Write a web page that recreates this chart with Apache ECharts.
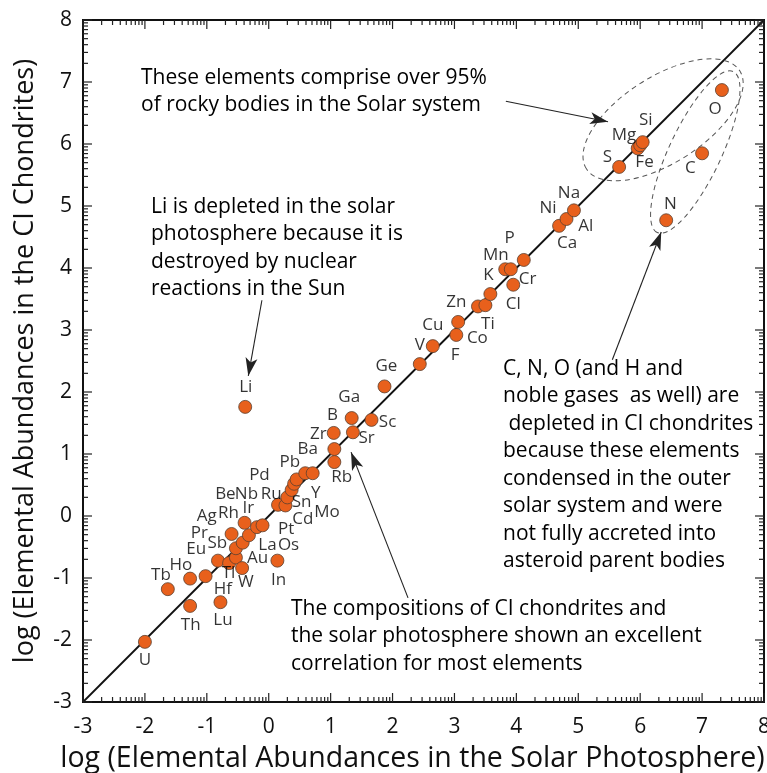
<!DOCTYPE html>
<html>
<head>
<meta charset="utf-8">
<script src="https://cdn.jsdelivr.net/npm/echarts@6/dist/echarts.min.js"></script>
<style>
  html, body { margin: 0; padding: 0; background: #fff; }
  #chart { width: 767px; height: 773px; }
</style>
</head>
<body>
<div id="chart"></div>
<script>
// log abundances: [solar photosphere, CI chondrites]
const elementNames = [
  'U', 'Tb', 'Th', 'Ho', 'Tm', 'Lu', 'Eu', 'Tl', 'Er', 'W', 'Sb', 'Dy', 'Pr', 'Ag', 'Ir', 'Rh', 'Sm',
  'In', 'Ru', 'Pt', 'Cd', 'Sn', 'Mo', 'Pd', 'Pb', 'Y',
  'Li', 'Zr', 'Sr', 'Ga', 'Sc', 'Ba', 'Rb', 'Ge',
  'Cs', 'V', 'F', 'Cu', 'Zn', 'Co', 'Ti', 'Cr', 'K', 'Mn', 'P',
  'Ca', 'Al', 'Na', 'S', 'Fe', 'Mg', 'Si', 'N', 'C', 'O'
];
const solarLog = [
  -2.00, -1.63, -1.27, -1.27, -1.02, -0.78, -0.82, -0.64, -0.53, -0.43, -0.53, -0.42, -0.60, -0.32, -0.39, -0.19, -0.10,
  0.14, 0.15, 0.27, 0.30, 0.37, 0.41, 0.45, 0.59, 0.71,
  -0.38, 1.05, 1.36, 1.34, 1.66, 1.06, 1.06, 1.87,
  2.44, 2.65, 3.03, 3.06, 3.38, 3.50, 3.58, 3.95, 3.82, 3.91, 4.12,
  4.69, 4.81, 4.93, 5.66, 5.96, 6.00, 6.04, 6.42, 7.00, 7.32
];
const chondriteLog = [
  -2.03, -1.18, -1.45, -1.01, -0.97, -1.39, -0.72, -0.76, -0.67, -0.84, -0.52, -0.43, -0.29, -0.31, -0.11, -0.18, -0.15,
  -0.72, 0.18, 0.17, 0.30, 0.42, 0.52, 0.59, 0.69, 0.69,
  1.76, 1.34, 1.35, 1.58, 1.55, 1.08, 0.87, 2.09,
  2.45, 2.74, 2.92, 3.13, 3.38, 3.40, 3.58, 3.73, 3.98, 3.98, 4.13,
  4.68, 4.79, 4.93, 5.63, 5.93, 5.98, 6.03, 4.77, 5.85, 6.87
];

// element symbols written beside the points, anchored in axis units
const labelText = [
  'U', 'Th', 'Lu', 'Tb', 'Ho', 'Hf', 'Eu', 'Tl', 'W', 'In', 'Pr', 'Sb', 'Au', 'La', 'Os', 'Ag', 'Rh', 'Ir', 'Pt', 'Cd',
  'Be', 'Nb', 'Ru', 'Sn', 'Mo', 'Y', 'Pd', 'Pb', 'Ba', 'Rb', 'Zr', 'B', 'Sr', 'Ga', 'Sc', 'Ge', 'Li',
  'V', 'F', 'Cu', 'Co', 'Ti', 'Zn', 'Cl', 'K', 'Cr', 'Mn', 'P', 'Ca', 'Al', 'Ni', 'Na',
  'S', 'Fe', 'Mg', 'Si', 'N', 'C', 'O'
];
const labelX = [
  -2.00, -1.26, -0.74, -1.74, -1.42, -0.74, -1.17, -0.65, -0.37, 0.16, -1.12, -0.83, -0.18, -0.02, 0.32, -1.00, -0.65, -0.33, 0.28, 0.55,
  -0.70, -0.36, 0.04, 0.53, 0.94, 0.76, -0.15, 0.34, 0.63, 1.18, 0.80, 1.03, 1.58, 1.30, 1.92, 1.90, -0.37,
  2.44, 3.01, 2.65, 3.37, 3.54, 3.03, 3.95, 3.55, 4.18, 3.67, 3.89, 4.82, 5.12, 4.51, 4.85,
  5.47, 6.07, 5.74, 6.09, 6.49, 6.81, 7.21
];
const labelY = [
  -2.33, -1.76, -1.68, -0.96, -0.79, -1.18, -0.54, -0.92, -1.07, -1.03, -0.27, -0.44, -0.68, -0.47, -0.47, 0.00, 0.05, 0.12, -0.21, -0.05,
  0.36, 0.36, 0.36, 0.23, 0.07, 0.37, 0.66, 0.87, 1.08, 0.62, 1.32, 1.63, 1.25, 1.92, 1.51, 2.41, 2.08,
  2.76, 2.60, 3.08, 2.87, 3.10, 3.45, 3.42, 3.89, 3.82, 4.21, 4.48, 4.40, 4.67, 4.96, 5.21,
  5.78, 5.70, 6.15, 6.39, 5.03, 5.61, 6.57
];

// axis range and tick positions
const axisMin = -3;
const axisMax = 8;
const majorTicks = [-3, -2, -1, 0, 1, 2, 3, 4, 5, 6, 7, 8];
const minorTicks = [];
for (let n = axisMin; n < axisMax; n++) {
  for (let k = 2; k <= 9; k++) minorTicks.push(n + Math.log10(k));
}

// annotation arrows (tail -> head) in axis units
const arrows = [
  [[3.83, 6.69], [5.48, 6.36]],
  [[-0.11, 3.48], [-0.33, 2.26]],
  [[2.25, -1.32], [1.33, 1.03]],
  [[5.55, 2.52], [6.34, 4.58]]
];

const pointData = elementNames.map((name, i) => ({ name: name, value: [solarLog[i], chondriteLog[i]] }));
const labelData = labelText.map((t, i) => ({ name: t, value: [labelX[i], labelY[i]] }));
const arrowMarks = arrows.map(([a, b]) => [{ coord: a }, { coord: b }]);

const FONT = '"Open Sans", "Noto Sans", sans-serif';
const MAJOR_LEN = 9;
const MINOR_LEN = 5;

const option = {
  animation: false,
  backgroundColor: '#ffffff',
  grid: {
    left: 83, top: 20, right: 3, bottom: 71, containLabel: false, outerBoundsMode: 'none',
    show: true, borderColor: '#111', borderWidth: 2, backgroundColor: 'transparent'
  },
  xAxis: {
    type: 'value', min: axisMin, max: axisMax, interval: 1,
    splitLine: { show: false },
    axisLine: { show: true, onZero: false, lineStyle: { color: '#111', width: 2 } },
    axisTick: { show: false },
    axisLabel: { color: '#111', fontSize: 21, fontFamily: FONT, margin: 15 },
    name: 'log (Elemental Abundances in the Solar Photosphere)',
    nameLocation: 'middle',
    nameGap: 42,
    nameTextStyle: { color: '#111', fontSize: 28.5, fontFamily: FONT, padding: [0, 22, 0, 0] }
  },
  yAxis: {
    type: 'value', min: axisMin, max: axisMax, interval: 1,
    splitLine: { show: false },
    axisLine: { show: true, onZero: false, lineStyle: { color: '#111', width: 2 } },
    axisTick: { show: false },
    axisLabel: { color: '#111', fontSize: 21, fontFamily: FONT, margin: 11 },
    name: 'log (Elemental Abundances in the CI Chondrites)',
    nameLocation: 'middle',
    nameGap: 44,
    nameTextStyle: { color: '#111', fontSize: 27, fontFamily: FONT }
  },
  series: [
    {
      // one-to-one line with the annotation arrows
      type: 'line',
      data: [[axisMin, axisMin], [axisMax, axisMax]],
      symbol: 'none',
      lineStyle: { color: '#111', width: 1.8 },
      z: 2,
      silent: true,
      markLine: {
        silent: true,
        symbol: ['none', 'arrow'],
        symbolSize: [9, 18],
        label: { show: false },
        lineStyle: { color: '#222', width: 1.1, type: 'solid' },
        data: arrowMarks
      }
    },
    {
      type: 'scatter',
      data: pointData,
      symbol: 'circle',
      symbolSize: 13,
      itemStyle: { color: '#E8601C', borderColor: '#5b4030', borderWidth: 0.8, opacity: 1 },
      z: 4
    },
    {
      type: 'scatter',
      data: labelData,
      symbolSize: 0,
      silent: true,
      label: {
        show: true, position: 'inside', formatter: '{b}',
        color: '#000', fontSize: 17, fontFamily: FONT
      },
      z: 5
    }
  ]
};

const chart = echarts.init(document.getElementById('chart'), null, { renderer: 'canvas' });
chart.setOption(option);

const toPx = p => chart.convertToPixel({ gridIndex: 0 }, p);

// dashed outlines around the rock-forming and volatile element groups
const groupOutlines = [
  { center: [6.37, 6.39], rx: 91, ry: 43, angle: 32.6 },
  { center: [6.89, 5.87], rx: 89, ry: 26, angle: 64.7 }
];
const notes = [
  { text: 'These elements comprise over 95%\nof rocky bodies in the Solar system', left: 141, top: 64 },
  { text: 'Li is depleted in the solar\nphotosphere because it is\ndestroyed by nuclear\nreactions in the Sun', left: 151, top: 193 },
  { text: 'C, N, O (and H and\nnoble gases  as well) are\n depleted in CI chondrites\nbecause these elements\ncondensed in the outer\nsolar system and were\nnot fully accreted into\nasteroid parent bodies', left: 503, top: 355 },
  { text: 'The compositions of CI chondrites and\nthe solar photosphere shown an excellent\ncorrelation for most elements', left: 291, top: 595 }
];

const graphics = [];

// inward tick marks on all four sides, drawn as thin filled bars
const TW = 1.2;
const tickFill = { fill: '#222' };
function addTicks(values, len) {
  values.forEach(v => {
    const b = toPx([v, axisMin]), t = toPx([v, axisMax]);
    const l = toPx([axisMin, v]), r = toPx([axisMax, v]);
    graphics.push(
      { type: 'rect', silent: true, z: 100, shape: { x: b[0] - TW / 2, y: b[1] - len, width: TW, height: len }, style: tickFill },
      { type: 'rect', silent: true, z: 100, shape: { x: t[0] - TW / 2, y: t[1], width: TW, height: len }, style: tickFill },
      { type: 'rect', silent: true, z: 100, shape: { x: l[0], y: l[1] - TW / 2, width: len, height: TW }, style: tickFill },
      { type: 'rect', silent: true, z: 100, shape: { x: r[0] - len, y: r[1] - TW / 2, width: len, height: TW }, style: tickFill }
    );
  });
}
addTicks(majorTicks, MAJOR_LEN);
addTicks(minorTicks, MINOR_LEN);

groupOutlines.forEach(g => {
  const c = toPx(g.center);
  graphics.push({
    type: 'ellipse',
    x: c[0], y: c[1],
    rotation: g.angle * Math.PI / 180,
    shape: { cx: 0, cy: 0, rx: g.rx, ry: g.ry },
    style: { fill: 'none', stroke: '#555', lineWidth: 1, lineDash: [5, 4] },
    silent: true, z: 3
  });
});
notes.forEach(n => {
  graphics.push({
    type: 'text', left: n.left, top: n.top, silent: true, z: 6,
    style: { text: n.text, fill: '#000', font: '21px ' + FONT, lineHeight: 27.5 }
  });
});
chart.setOption({ graphic: graphics });
</script>
</body>
</html>
